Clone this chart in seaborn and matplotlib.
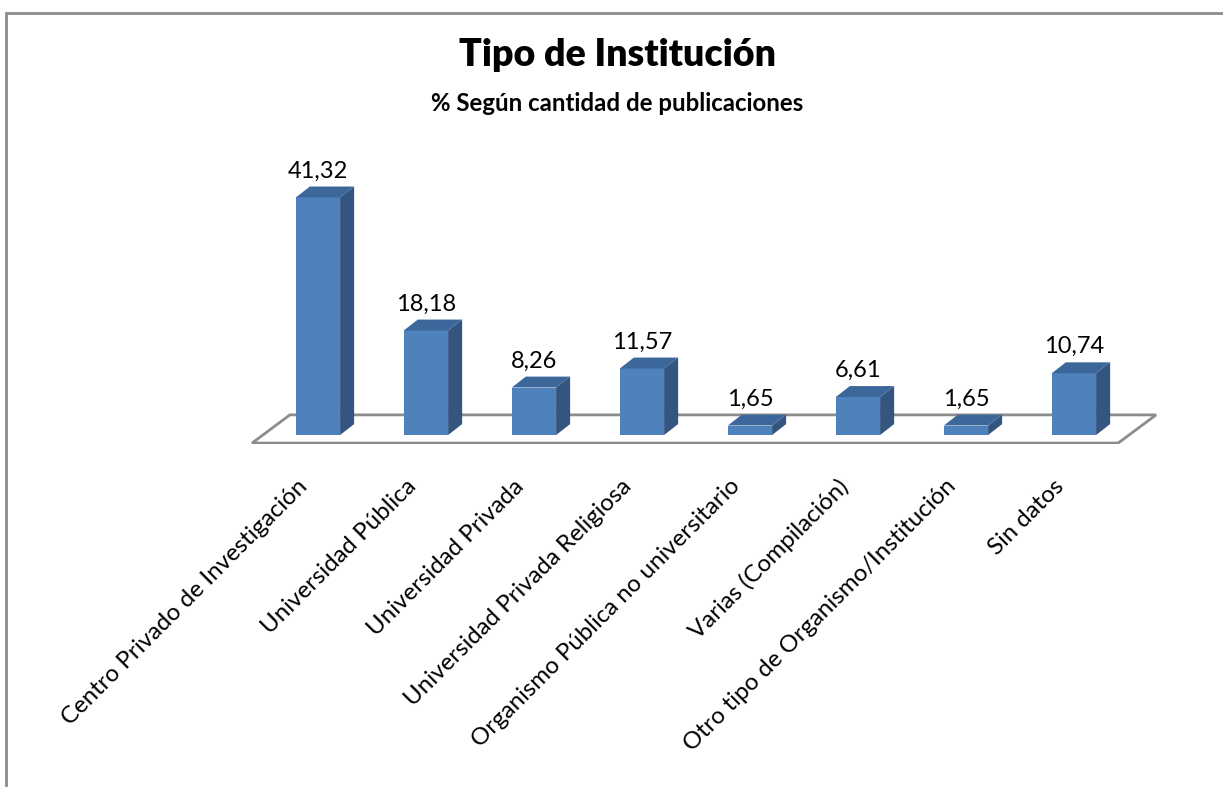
import matplotlib
matplotlib.use('Agg')
import matplotlib.pyplot as plt
import matplotlib.transforms as mtransforms
import seaborn as sns
import pandas as pd
from matplotlib.patches import Polygon, Rectangle

# datos del gráfico
categorias = ['Centro Privado de Investigación', 'Universidad Pública', 'Universidad Privada',
              'Universidad Privada Religiosa', 'Organismo Pública no universitario',
              'Varias (Compilación)', 'Otro tipo de Organismo/Institución', 'Sin datos']
porcentajes = [41.32, 18.18, 8.26, 11.57, 1.65, 6.61, 1.65, 10.74]
etiquetas = [f"{v:.2f}".replace('.', ',') for v in porcentajes]

titulo = 'Tipo de Institución'
subtitulo = '% Según cantidad de publicaciones'

# colores estilo Excel
c_frente = '#4F81BD'
c_lado = '#34557F'
c_tapa = '#3C679B'

sns.set_theme(style='white')
plt.rcParams['font.family'] = ['Lato', 'DejaVu Sans']
plt.rcParams['text.color'] = 'black'
plt.rcParams['xtick.color'] = 'black'

fig = plt.figure(figsize=(12.23, 7.87), dpi=100)
ax = fig.add_axes([0.1805, 0.4363, 0.7771, 0.3397])

df = pd.DataFrame({'categoria': categorias, 'porcentaje': porcentajes})
sns.barplot(data=df, x='categoria', y='porcentaje', color=c_frente, saturation=1,
            width=0.41, linewidth=0, ax=ax, zorder=3)

ax.set_xlim(-0.9, 7.9)
ax.set_ylim(-1.5, 45)

# profundidad 3D
dx, dy = 0.13, 1.9
barras = ax.patches[:len(porcentajes)]
for p in barras:
    x0, w, h = p.get_x(), p.get_width(), p.get_height()
    ax.add_patch(Polygon([(x0 + w, 0), (x0 + w + dx, dy), (x0 + w + dx, h + dy), (x0 + w, h)],
                         closed=True, facecolor=c_lado, edgecolor='none', zorder=3))
    ax.add_patch(Polygon([(x0, h), (x0 + dx, h + dy), (x0 + w + dx, h + dy), (x0 + w, h)],
                         closed=True, facecolor=c_tapa, edgecolor='none', zorder=3))

# etiquetas de valores
for p, txt in zip(barras, etiquetas):
    xc = p.get_x() + p.get_width() / 2
    ax.text(xc, p.get_height() + dy + 0.9, txt, ha='center', va='bottom', fontsize=17, color='black')

# piso
n = len(categorias)
piso_y0, piso_prof_x, piso_prof_y = -1.4, 0.35, 4.9
izq, der = -0.61, n - 0.59
ax.add_patch(Polygon([(izq, piso_y0), (der, piso_y0), (der + piso_prof_x, piso_y0 + piso_prof_y),
                      (izq + piso_prof_x, piso_y0 + piso_prof_y)],
                     closed=True, facecolor='white', edgecolor='#8C8C8C', linewidth=2, zorder=1))

ax.set_xlabel('')
ax.set_ylabel('')
ax.set_yticks([])
ax.set_xticks(range(n))
ax.set_xticklabels(categorias, rotation=45, ha='right', rotation_mode='anchor', fontsize=17.3)
ax.tick_params(axis='x', length=0, pad=23)
desplaz = mtransforms.ScaledTranslation(-0.21, 0, fig.dpi_scale_trans)
for lbl in ax.get_xticklabels():
    lbl.set_transform(lbl.get_transform() + desplaz)
for s in ax.spines.values():
    s.set_visible(False)
ax.patch.set_alpha(0)

# títulos
fig.text(0.505, 1 - 66 / 787, titulo, ha='center', va='baseline', fontsize=27, fontweight='heavy')
fig.text(0.505, 1 - 111 / 787, subtitulo, ha='center', va='baseline', fontsize=17.3, fontweight='bold')

# marco
fig.add_artist(Rectangle((6 / 1223, -0.1), 1.2, 1.1 - 13 / 787, transform=fig.transFigure,
                         fill=False, edgecolor='#8C8C8C', linewidth=2))

fig.savefig('out.png', dpi=100)
